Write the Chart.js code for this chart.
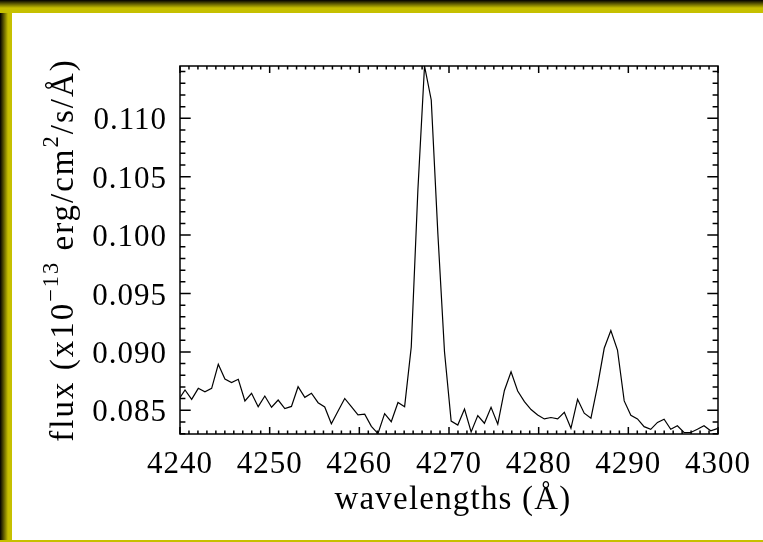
<!DOCTYPE html>
<html><head><meta charset="utf-8">
<script src="https://cdn.jsdelivr.net/npm/chart.js@4.4.1/dist/chart.umd.min.js"></script>
<style>
html,body{margin:0;padding:0;}
body{width:763px;height:542px;position:relative;overflow:hidden;background:#fff;}
#left{position:absolute;left:0;top:0;width:12px;height:542px;background:linear-gradient(to right,#000 0px,#c6c000 8px,#c6c000 12px);}
#top{position:absolute;left:0;top:0;width:763px;height:13px;background:linear-gradient(to bottom,#000 0px,#c6c000 8px,#c6c000 13px);}
#bot{position:absolute;left:0;top:540px;width:763px;height:2px;background:#c6c000;}
canvas{position:absolute;left:0;top:0;}
</style></head>
<body>
<div id="left"></div><div id="top"></div><div id="bot"></div>
<canvas id="c" width="763" height="542"></canvas>
<script>
const wavelengths = [4239.82, 4240.56, 4241.30, 4242.04, 4242.78, 4243.53, 4244.27, 4245.01, 4245.75, 4246.50, 4247.24, 4247.98, 4248.72, 4249.46, 4250.21, 4250.95, 4251.69, 4252.43, 4253.17, 4253.92, 4254.66, 4255.40, 4256.14, 4256.88, 4257.63, 4258.37, 4259.11, 4259.85, 4260.60, 4261.34, 4262.08, 4262.82, 4263.56, 4264.31, 4265.05, 4265.79, 4266.53, 4267.27, 4268.02, 4268.76, 4269.50, 4270.24, 4270.98, 4271.73, 4272.47, 4273.21, 4273.95, 4274.69, 4275.44, 4276.18, 4276.92, 4277.66, 4278.41, 4279.15, 4279.89, 4280.63, 4281.37, 4282.12, 4282.86, 4283.60, 4284.34, 4285.08, 4285.83, 4286.57, 4287.31, 4288.05, 4288.79, 4289.54, 4290.28, 4291.02, 4291.76, 4292.50, 4293.25, 4293.99, 4294.73, 4295.47, 4296.21, 4296.96, 4297.70, 4298.44, 4299.18, 4299.92];
const flux = [0.08588, 0.08674, 0.08594, 0.08688, 0.08659, 0.08688, 0.08894, 0.08768, 0.08738, 0.08766, 0.08580, 0.08646, 0.08531, 0.08622, 0.08526, 0.08588, 0.08514, 0.08533, 0.08702, 0.08611, 0.08646, 0.08565, 0.08528, 0.08385, 0.08494, 0.08601, 0.08531, 0.08460, 0.08467, 0.08363, 0.08301, 0.08471, 0.08402, 0.08567, 0.08531, 0.09042, 0.10386, 0.11448, 0.11157, 0.10009, 0.08999, 0.08408, 0.08374, 0.08511, 0.08314, 0.08455, 0.08389, 0.08526, 0.08381, 0.08670, 0.08830, 0.08665, 0.08574, 0.08506, 0.08460, 0.08426, 0.08438, 0.08427, 0.08483, 0.08346, 0.08594, 0.08475, 0.08432, 0.08712, 0.09031, 0.09183, 0.09016, 0.08580, 0.08457, 0.08426, 0.08360, 0.08337, 0.08396, 0.08423, 0.08338, 0.08368, 0.08310, 0.08310, 0.08337, 0.08368, 0.08325, 0.08343];

const xTickValues = [4240, 4250, 4260, 4270, 4280, 4290, 4300];
const xTickLabels = ['4240', '4250', '4260', '4270', '4280', '4290', '4300'];
const yTickValues = [0.085, 0.090, 0.095, 0.100, 0.105, 0.110];
const yTickLabels = ['0.085', '0.090', '0.095', '0.100', '0.105', '0.110'];
const xRange = [4240, 4300];
const yRange = [0.08297, 0.11448];
const xMinorStep = 1;
const yMinorStep = 0.001;
const xTitle = 'wavelengths (\u00C5)';
const yTitleParts = [['flux (x10', false], ['\u221213', true], [' erg/cm', false], ['2', true], ['/s/\u00C5)', false]];

const FONT = 'Liberation Serif';

const framePlugin = {
  id: 'idlFrame',
  beforeDraw(chart) {
    if ('letterSpacing' in chart.ctx) chart.ctx.letterSpacing = '1px';
  },
  afterDraw(chart) {
    const {ctx, chartArea: a, scales: {x, y}} = chart;
    ctx.save();
    ctx.strokeStyle = '#000';
    ctx.lineWidth = 1.5;
    ctx.strokeRect(a.left, a.top, a.right - a.left, a.bottom - a.top);
    ctx.beginPath();
    const nx = Math.round((xRange[1] - xRange[0]) / xMinorStep);
    for (let i = 0; i <= nx; i++) {
      const v = xRange[0] + i * xMinorStep;
      const px = x.getPixelForValue(v);
      const major = xTickValues.some(t => Math.abs(t - v) < 1e-6);
      const L = major ? 7 : 3.5;
      ctx.moveTo(px, a.bottom); ctx.lineTo(px, a.bottom - L);
      ctx.moveTo(px, a.top); ctx.lineTo(px, a.top + L);
    }
    const i0 = Math.ceil(yRange[0] / yMinorStep - 1e-6);
    const i1 = Math.floor(yRange[1] / yMinorStep + 1e-6);
    for (let i = i0; i <= i1; i++) {
      const v = i * yMinorStep;
      const py = y.getPixelForValue(v);
      const major = yTickValues.some(t => Math.abs(t - v) < 1e-7);
      const L = major ? 10.7 : 5.4;
      ctx.moveTo(a.left, py); ctx.lineTo(a.left + L, py);
      ctx.moveTo(a.right, py); ctx.lineTo(a.right - L, py);
    }
    ctx.stroke();

    // titles
    const fs = 33, sub = 0.68;
    ctx.fillStyle = '#000';
    if ('letterSpacing' in ctx) ctx.letterSpacing = '1.2px';
    ctx.font = fs + 'px "' + FONT + '"';
    ctx.textAlign = 'center';
    ctx.textBaseline = 'alphabetic';
    ctx.fillText(xTitle, (a.left + a.right) / 2 + 4, 509);

    // y title rotated
    if ('letterSpacing' in ctx) ctx.letterSpacing = '2px';
    ctx.textAlign = 'left';
    let total = 0;
    const widths = yTitleParts.map(([t, s]) => {
      ctx.font = (s ? fs * sub : fs) + 'px "' + FONT + '"';
      const w = ctx.measureText(t).width;
      total += w;
      return w;
    });
    ctx.translate(73, (a.top + a.bottom) / 2);
    ctx.rotate(-Math.PI / 2);
    let cx = -total / 2;
    yTitleParts.forEach(([t, s], i) => {
      ctx.font = (s ? fs * sub : fs) + 'px "' + FONT + '"';
      ctx.fillText(t, cx, s ? -fs * 0.45 : 0);
      cx += widths[i];
    });
    ctx.restore();
    if ('letterSpacing' in ctx) ctx.letterSpacing = '0px';
  }
};

new Chart(document.getElementById('c'), {
  type: 'line',
  data: {
    datasets: [{
      data: wavelengths.map((w, i) => ({x: w, y: flux[i]})),
      borderColor: '#000',
      borderWidth: 1.2,
      pointRadius: 0,
      tension: 0,
      fill: false,
      clip: 0
    }]
  },
  options: {
    responsive: false,
    animation: false,
    devicePixelRatio: 1,
    layout: {padding: {top: 66, right: 45, left: 0, bottom: 0}},
    plugins: {legend: {display: false}, tooltip: {enabled: false}},
    scales: {
      x: {
        type: 'linear', min: xRange[0], max: xRange[1],
        grid: {display: false, drawTicks: false},
        border: {display: false},
        afterBuildTicks: s => { s.ticks = xTickValues.map(v => ({value: v})); },
        afterFit: s => { s.height = 108; },
        ticks: {
          autoSkip: false, maxRotation: 0, padding: 12,
          color: '#000', font: {family: FONT, size: 31},
          callback: (v, i) => xTickLabels[i]
        }
      },
      y: {
        type: 'linear', min: yRange[0], max: yRange[1],
        grid: {display: false, drawTicks: false},
        border: {display: false},
        afterBuildTicks: s => { s.ticks = yTickValues.map(v => ({value: v})); },
        afterFit: s => { s.width = 180; },
        ticks: {
          autoSkip: false, padding: 13, labelOffset: 3,
          color: '#000', font: {family: FONT, size: 31},
          callback: (v, i) => yTickLabels[i]
        }
      }
    }
  },
  plugins: [framePlugin]
});
</script>
</body></html>
